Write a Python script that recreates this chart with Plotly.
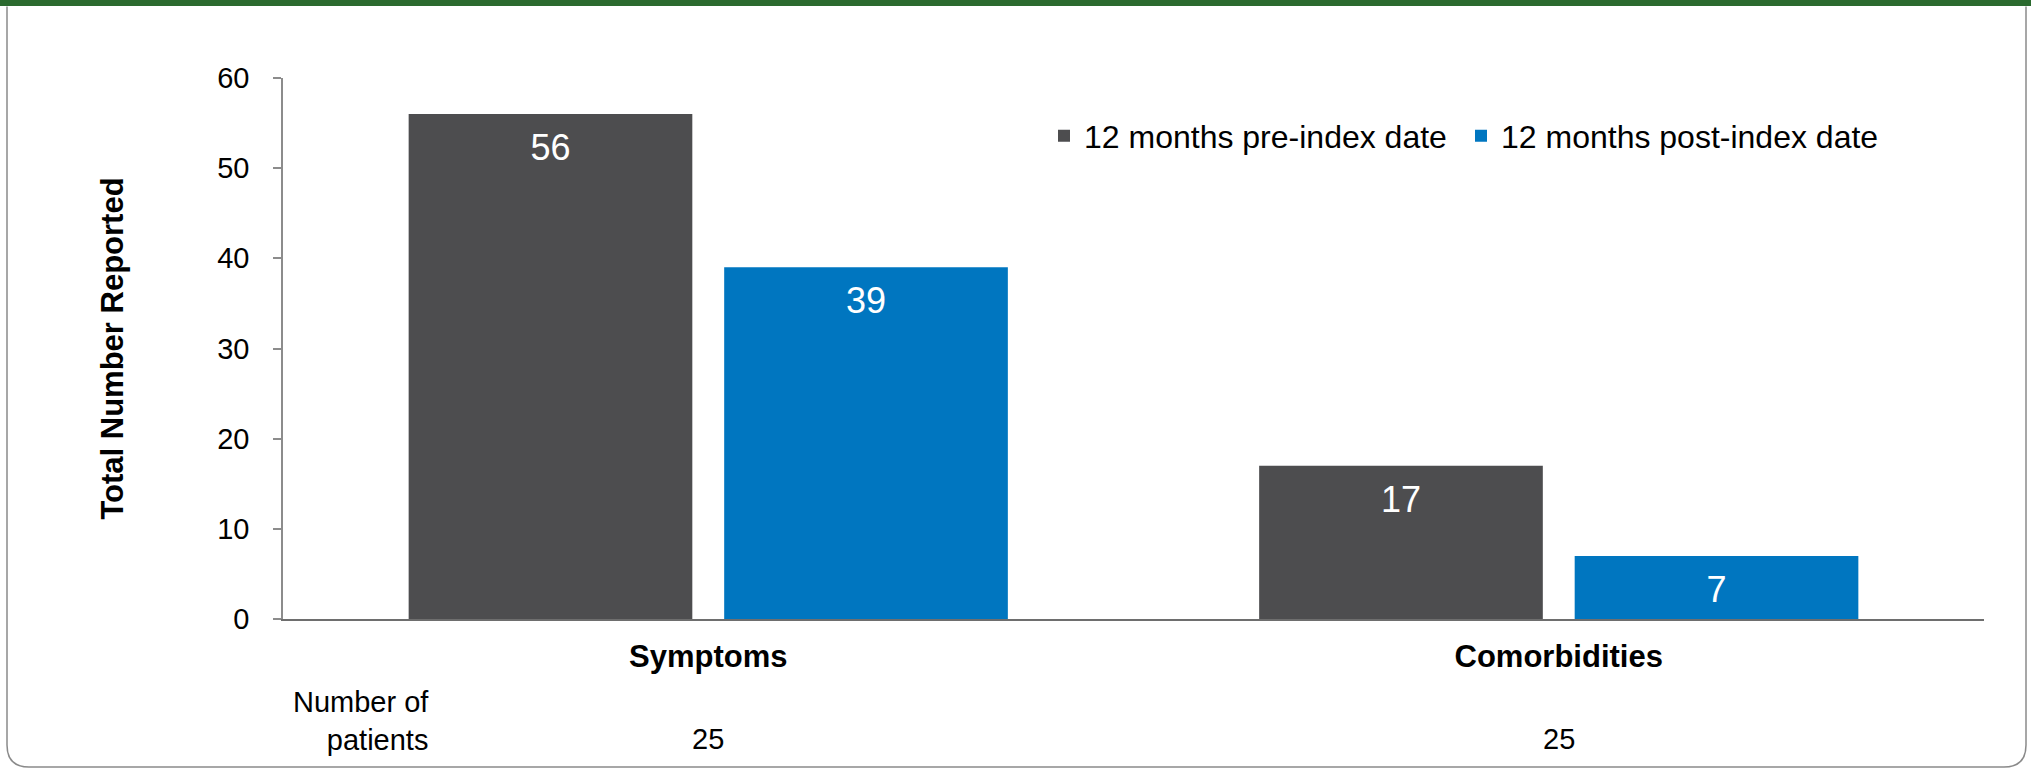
import plotly.graph_objects as go

# ---- data ----
categories = ["Symptoms", "Comorbidities"]
pre_index = [56, 17]
post_index = [39, 7]
series_names = ["12 months pre-index date", "12 months post-index date"]
patients = [25, 25]
y_ticks = [0, 10, 20, 30, 40, 50, 60]

# ---- layout geometry (pixels) ----
W, H = 2031, 771
L, R, T, B = 283, 47, 78, 152
PW = W - L - R
PH = H - T - B
BARGAP = 0.258


def px_x(px):
    return (px - L) / PW


def px_y(py):
    return (H - B - py) / PH


FONT = "Liberation Sans, Arial, Helvetica, sans-serif"
GREY = "#4d4d4f"
BLUE = "#0076c0"

fig = go.Figure()
for vals, name, color, grp in [(pre_index, series_names[0], GREY, "pre"),
                               (post_index, series_names[1], BLUE, "post")]:
    fig.add_trace(go.Bar(
        x=categories, y=vals, name=name, offsetgroup=grp,
        marker=dict(color=color, line=dict(width=0)),
        hoverinfo="skip",
    ))
# value labels, grouped to sit over each bar
for vals, grp in [(pre_index, "pre"), (post_index, "post")]:
    fig.add_trace(go.Scatter(
        x=categories, y=vals, mode="markers+text", offsetgroup=grp,
        marker=dict(size=29, opacity=0),
        text=[str(v) for v in vals], textposition="bottom center",
        textfont=dict(color="white", size=36, family=FONT),
        showlegend=False, hoverinfo="skip", cliponaxis=False,
    ))

# number of patients row
annotations = [dict(
    text="Number of<br>patients", xref="paper", yref="paper",
    x=px_x(431), y=px_y(684), xanchor="right", yanchor="top",
    align="right", showarrow=False,
    font=dict(size=29, family=FONT, color="black"),
)]
for cat, n in zip(categories, patients):
    annotations.append(dict(
        text=str(n), xref="x", yref="paper", x=cat, y=px_y(739),
        xanchor="center", yanchor="middle", showarrow=False,
        font=dict(size=29, family=FONT, color="black"),
    ))

# frame: green top band + grey rounded border
r = 22
x0, x1, y0, y1 = 7, 2026, 6.5, 767
path = (
    f"M {px_x(x0)},{px_y(y0)} L {px_x(x0)},{px_y(y1 - r)} "
    f"Q {px_x(x0)},{px_y(y1)} {px_x(x0 + r)},{px_y(y1)} "
    f"L {px_x(x1 - r)},{px_y(y1)} "
    f"Q {px_x(x1)},{px_y(y1)} {px_x(x1)},{px_y(y1 - r)} "
    f"L {px_x(x1)},{px_y(y0)}"
)
shapes = [
    dict(type="path", path=path, xref="paper", yref="paper",
         line=dict(color="#8a8a8a", width=1.5), layer="below"),
    dict(type="rect", xref="paper", yref="paper",
         x0=px_x(0), x1=px_x(W), y0=px_y(0), y1=px_y(6),
         fillcolor="#2b6a2f", line=dict(width=0), layer="above"),
]

fig.update_layout(
    width=W, height=H,
    margin=dict(l=L, r=R, t=T, b=B, pad=0),
    paper_bgcolor="white", plot_bgcolor="white",
    barmode="group", bargap=BARGAP, bargroupgap=0.101,
    scattermode="group", scattergap=BARGAP,
    font=dict(family=FONT, color="black"),
    showlegend=True,
    legend=dict(
        orientation="h", x=px_x(1044), y=px_y(136),
        xanchor="left", yanchor="middle",
        font=dict(size=32, family=FONT, color="black"),
        bgcolor="rgba(0,0,0,0)", borderwidth=0, traceorder="normal",
        entrywidth=372,
    ),
    xaxis=dict(
        type="category", showline=True, linecolor="#6e6e6e", linewidth=2,
        ticks="", showgrid=False, zeroline=False,
        tickfont=dict(size=31, family=FONT, color="black", weight="bold"),
        ticklabelstandoff=9,
    ),
    yaxis=dict(
        range=[0, 60], tickvals=y_ticks, showline=True,
        linecolor="#8c8c8c", linewidth=1.5,
        ticks="outside", ticklen=8, tickcolor="#8c8c8c", tickwidth=1.5,
        showgrid=False, zeroline=False,
        tickfont=dict(size=29, family=FONT, color="black"),
        ticklabelstandoff=18,
        title=dict(text="Total Number Reported", standoff=84,
                   font=dict(size=31, family=FONT, color="black", weight="bold")),
    ),
    annotations=annotations,
    shapes=shapes,
)

fig.write_html("out.html")
